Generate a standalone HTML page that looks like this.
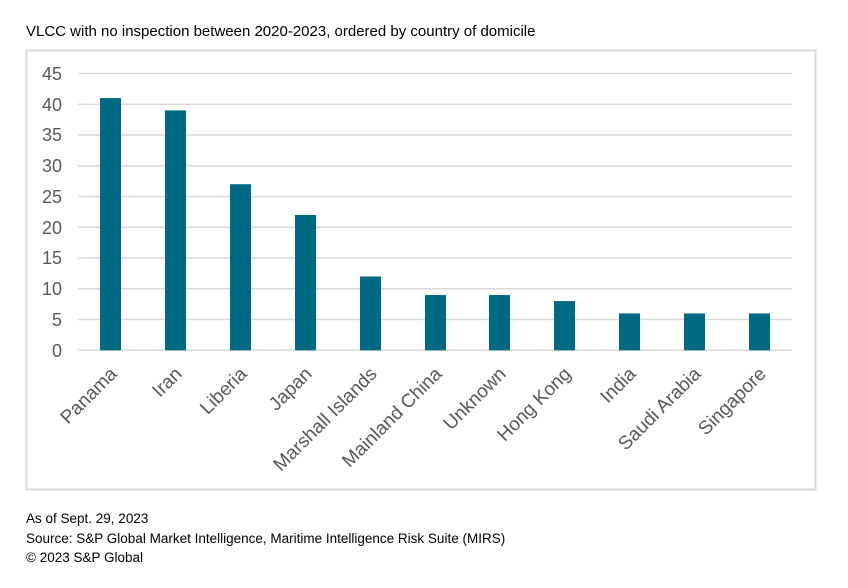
<!DOCTYPE html>
<html><head><meta charset="utf-8"><style>
body{margin:0;background:#fff;}
svg{display:block;}
</style></head><body>
<svg width="848" height="588" xmlns="http://www.w3.org/2000/svg">
<text x="26" y="36" font-family="Liberation Sans, sans-serif" font-size="15" fill="#000">VLCC with no inspection between 2020-2023, ordered by country of domicile</text>
<rect x="26.5" y="50.5" width="789" height="439" fill="#fff" stroke="#d9d9d9" stroke-width="2"/>
<g stroke="#d9d9d9" stroke-width="1.5">
<line x1="78" x2="792" y1="73.5" y2="73.5"/>
<line x1="78" x2="792" y1="104.3" y2="104.3"/>
<line x1="78" x2="792" y1="135" y2="135"/>
<line x1="78" x2="792" y1="165.8" y2="165.8"/>
<line x1="78" x2="792" y1="196.5" y2="196.5"/>
<line x1="78" x2="792" y1="227.3" y2="227.3"/>
<line x1="78" x2="792" y1="258" y2="258"/>
<line x1="78" x2="792" y1="288.8" y2="288.8"/>
<line x1="78" x2="792" y1="319.5" y2="319.5"/>
<line x1="78" x2="792" y1="350.3" y2="350.3"/>
</g>
<g font-family="Liberation Sans, sans-serif" font-size="18" fill="#595959" text-anchor="end">
<text x="62" y="80">45</text><text x="62" y="111">40</text><text x="62" y="141">35</text>
<text x="62" y="172">30</text><text x="62" y="203">25</text><text x="62" y="234">20</text>
<text x="62" y="264">15</text><text x="62" y="295">10</text><text x="62" y="326">5</text>
<text x="62" y="357">0</text>
</g>
<g fill="#006a85">
<rect x="100" y="98.1" width="21" height="252.2"/>
<rect x="165" y="110.4" width="21" height="239.9"/>
<rect x="230" y="184.2" width="21" height="166.1"/>
<rect x="295" y="215" width="21" height="135.3"/>
<rect x="360" y="276.5" width="21" height="73.8"/>
<rect x="425" y="295" width="21" height="55.3"/>
<rect x="489" y="295" width="21" height="55.3"/>
<rect x="554" y="301.1" width="21" height="49.2"/>
<rect x="619" y="313.4" width="21" height="36.9"/>
<rect x="684" y="313.4" width="21" height="36.9"/>
<rect x="749" y="313.4" width="21" height="36.9"/>
</g>
<g font-family="Liberation Sans, sans-serif" font-size="19" fill="#595959" text-anchor="end">
<text transform="translate(118,375) rotate(-45)">Panama</text>
<text transform="translate(183,375) rotate(-45)">Iran</text>
<text transform="translate(248,375) rotate(-45)">Liberia</text>
<text transform="translate(313,375) rotate(-45)">Japan</text>
<text transform="translate(378,375) rotate(-45)">Marshall Islands</text>
<text transform="translate(443,375) rotate(-45)">Mainland China</text>
<text transform="translate(507,375) rotate(-45)">Unknown</text>
<text transform="translate(572,375) rotate(-45)">Hong Kong</text>
<text transform="translate(637,375) rotate(-45)">India</text>
<text transform="translate(702,375) rotate(-45)">Saudi Arabia</text>
<text transform="translate(767,375) rotate(-45)">Singapore</text>
</g>
<g font-family="Liberation Sans, sans-serif" font-size="13.5" fill="#000">
<text x="26" y="523">As of Sept. 29, 2023</text>
<text x="26" y="543">Source: S&amp;P Global Market Intelligence, Maritime Intelligence Risk Suite (MIRS)</text>
<text x="26" y="562">© 2023 S&amp;P Global</text>
</g>
</svg>
</body></html>
